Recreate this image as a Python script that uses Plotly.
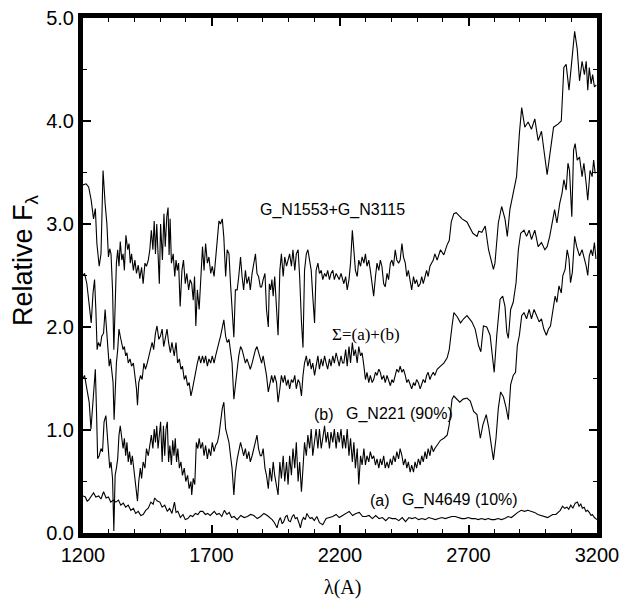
import plotly.graph_objects as go

# ---------------- data ----------------
top_x = [1200,1212,1222,1232,1241,1248,1254,1263,1270,1278,1286,1293,1299,1304,1309,1315,1320,1325,1330,1335,
         1340,1345,1351,1356,1361,1367,1374,1379,1384,1389,1396,1402,1408,1415,1421,1428,1434,1441,1447,1454,
         1460,1466,1472,1477,1482,1487,1492,1497,1502,1509,1515,1520,1526,1531,1535,1539,1544,1551,1557,1562,
         1567,1572,1578,1585,1591,1598,1604,1611,1617,1623,1629,1634,1639,1645,1652,1658,1665,1671,1677,1684,
         1690,1697,1703,1710,1716,1723,1729,1735,1742,1748,1755,1761,1768,1774,1780,1787,1793,1800,1806,1813,
         1819,1825,1832,1838,1845,1851,1858,1864,1871,1877,1883,1890,1895,1901,1908,1914,1921,1925,1930,1935,
         1940,1946,1953,1959,1966,1972,1979,1985,1992,1998,2004,2011,2017,2024,2030,2037,2043,2050,2056,2062,
         2069,2075,2082,2088,2094,2101,2107,2114,2120,2127,2133,2140,2146,2152,2159,2165,2172,2178,2185,2191,
         2197,2204,2210,2215,2222,2228,2235,2241,2248,2254,2260,2267,2273,2280,2286,2293,2299,2305,2312,2318,
         2325,2331,2338,2344,2351,2357,2363,2370,2376,2383,2389,2396,2402,2408,2415,2421,2428,2434,2441,2447,
         2454,2460,2466,2473,2479,2486,2492,2498,2505,2512,2518,2524,2531,2537,2543,2550,2556,2563,2569,2578,
         2591,2604,2617,2625,2633,2643,2652,2662,2675,2694,2707,2717,2733,2740,2752,2765,2778,2790,2797,2803,
         2816,2829,2842,2851,2861,2874,2887,2898,2907,2919,2925,2932,2945,2958,2971,2984,2997,3006,3019,3031,
         3048,3061,3071,3080,3091,3100,3113,3123,3132,3142,3151,3158,3164,3170,3177,3183,3190,3197]
top_y = [3.38,3.39,3.36,3.23,3.05,3.15,2.81,2.59,2.71,3.52,3.20,3.00,2.68,2.76,2.71,2.36,1.78,2.36,2.62,2.75,
         2.59,2.83,2.65,2.71,2.55,2.89,2.75,2.81,2.62,2.71,2.55,2.65,2.52,2.60,2.47,2.58,2.42,2.62,2.59,2.65,
         2.75,2.94,2.75,3.03,2.71,3.00,2.75,2.42,3.00,2.65,3.10,2.78,3.07,3.16,2.70,3.05,2.62,2.71,2.49,2.65,
         2.55,2.62,2.20,2.55,2.65,2.42,2.52,2.36,2.46,2.42,2.26,2.49,2.01,2.36,2.17,2.49,2.78,2.55,2.81,2.62,
         2.68,2.52,2.59,2.49,2.65,2.87,3.03,3.00,3.05,2.87,2.49,2.75,2.71,2.42,2.17,1.90,2.36,2.36,2.49,2.68,
         2.49,2.36,2.55,2.42,2.49,2.36,2.52,2.62,2.71,2.52,2.49,2.39,2.39,2.46,2.52,2.17,2.00,2.42,2.36,2.46,
         2.30,2.49,2.23,1.92,2.55,2.71,2.49,2.68,2.59,2.65,2.71,2.59,2.75,2.55,2.71,2.75,2.49,2.05,1.80,2.55,
         2.71,2.75,2.65,2.55,2.30,2.04,2.55,2.62,2.52,2.55,2.46,2.52,2.49,2.55,2.46,2.52,2.55,2.46,2.52,2.49,
         2.46,2.52,2.46,2.42,2.49,2.36,2.46,2.62,2.94,2.75,2.55,2.49,2.65,2.59,2.68,2.62,2.71,2.59,2.65,2.55,
         2.39,2.30,2.49,2.62,2.55,2.65,2.59,2.42,2.39,2.52,2.46,2.62,2.65,2.59,2.75,2.65,2.62,2.65,2.81,2.68,
         2.62,2.49,2.55,2.42,2.36,2.49,2.42,2.46,2.39,2.42,2.49,2.42,2.49,2.55,2.49,2.59,2.62,2.65,2.71,2.65,
         2.75,2.70,2.80,2.84,3.02,3.10,3.11,3.08,3.05,3.02,2.95,2.91,2.88,2.93,2.92,2.98,2.75,2.62,2.56,2.62,
         3.01,3.17,3.05,2.88,3.14,3.30,3.46,3.88,4.13,3.94,3.96,3.99,3.92,4.02,3.81,3.90,3.65,3.48,3.72,3.94,
         3.97,4.00,4.52,4.55,4.30,4.51,4.87,4.70,4.39,4.58,4.45,4.58,4.30,4.52,4.36,4.45,4.33,4.35]

sum_x = [1200,1206,1215,1224,1232,1239,1245,1250,1255,1260,1267,1273,1280,1286,1291,1297,1302,1307,1312,1317,
         1321,1325,1330,1335,1340,1345,1351,1356,1361,1366,1371,1376,1383,1389,1396,1402,1408,1412,1417,1424,
         1430,1437,1443,1450,1456,1463,1469,1475,1482,1488,1495,1501,1508,1514,1520,1527,1533,1540,1546,1555,
         1562,1568,1575,1581,1587,1594,1600,1607,1613,1620,1626,1632,1639,1645,1652,1658,1665,1671,1677,1684,
         1690,1697,1703,1710,1716,1723,1729,1735,1742,1748,1755,1761,1768,1774,1780,1787,1793,1800,1806,1813,
         1819,1825,1832,1838,1845,1851,1858,1864,1871,1877,1883,1890,1895,1901,1908,1914,1921,1927,1934,1940,
         1946,1953,1959,1966,1972,1979,1985,1992,1998,2004,2011,2017,2024,2030,2037,2043,2050,2056,2062,2069,
         2075,2082,2088,2094,2101,2107,2114,2120,2127,2133,2140,2146,2152,2159,2165,2172,2178,2185,2191,2197,
         2204,2210,2215,2222,2228,2235,2241,2248,2254,2260,2267,2273,2280,2286,2293,2299,2305,2312,2318,2325,
         2331,2338,2344,2351,2357,2363,2370,2376,2383,2389,2396,2402,2408,2415,2421,2428,2434,2441,2447,2454,
         2460,2466,2473,2479,2486,2492,2498,2505,2512,2518,2524,2531,2537,2543,2550,2556,2563,2569,2578,2591,
         2604,2617,2625,2636,2643,2656,2669,2681,2694,2713,2726,2739,2748,2758,2771,2784,2795,2800,2810,2823,
         2833,2842,2849,2855,2864,2874,2885,2894,2903,2916,2926,2936,2945,2958,2971,2984,2997,3006,3016,3026,
         3035,3044,3055,3064,3071,3080,3087,3093,3102,3109,3115,3123,3132,3142,3149,3158,3164,3173,3181,3187,3193]
sum_y = [2.50,2.52,2.42,2.20,2.04,2.33,2.46,2.17,1.78,1.85,1.81,1.91,1.94,2.17,1.98,1.72,1.62,1.69,1.59,1.46,
         1.10,1.46,1.65,1.78,1.98,1.91,1.85,1.78,1.81,1.72,1.75,1.65,1.69,1.62,1.65,1.53,1.40,1.24,1.46,1.53,
         1.49,1.65,1.59,1.65,1.72,1.78,1.85,1.78,1.94,2.01,1.88,1.91,1.98,1.81,1.91,1.98,1.85,1.75,1.85,1.72,
         1.85,1.65,1.69,1.59,1.62,1.49,1.53,1.43,1.46,1.33,1.40,1.49,1.59,1.65,1.72,1.65,1.72,1.65,1.72,1.62,
         1.69,1.65,1.72,1.65,1.72,1.78,1.85,1.91,1.98,2.07,1.91,1.85,1.88,1.78,1.65,1.30,1.46,1.59,1.72,1.81,
         1.78,1.72,1.65,1.69,1.62,1.59,1.65,1.72,1.78,1.81,1.75,1.69,1.65,1.72,1.62,1.53,1.37,1.46,1.53,1.46,
         1.53,1.46,1.27,1.40,1.53,1.46,1.53,1.43,1.49,1.40,1.49,1.46,1.53,1.40,1.49,1.46,1.33,1.53,1.65,1.72,
         1.62,1.69,1.59,1.65,1.53,1.62,1.72,1.59,1.69,1.62,1.72,1.65,1.59,1.69,1.62,1.72,1.65,1.75,1.69,1.62,
         1.72,1.65,1.65,1.78,1.62,1.81,1.65,1.85,1.72,1.78,1.65,1.81,1.72,1.75,1.62,1.49,1.56,1.46,1.53,1.46,
         1.49,1.56,1.53,1.59,1.56,1.49,1.53,1.46,1.53,1.49,1.43,1.49,1.46,1.53,1.59,1.56,1.62,1.56,1.59,1.53,
         1.46,1.49,1.43,1.40,1.46,1.43,1.49,1.46,1.40,1.46,1.49,1.46,1.53,1.56,1.49,1.53,1.56,1.53,1.59,1.62,
         1.65,1.70,1.78,2.01,2.14,2.10,2.04,2.08,2.11,2.05,1.98,1.82,1.76,2.01,2.00,1.92,1.66,1.56,1.92,2.27,
         2.30,2.20,1.95,1.89,2.17,2.24,2.43,2.75,2.91,2.94,2.88,2.94,2.85,2.94,2.78,2.82,2.75,2.78,2.88,3.01,
         3.14,3.01,3.20,3.30,3.43,3.33,3.59,3.52,3.07,3.72,3.78,3.62,3.65,3.46,3.59,3.39,3.23,3.52,3.46,3.62,3.49]

b_x = [1200,1206,1215,1224,1231,1236,1242,1248,1253,1257,1263,1270,1276,1282,1289,1294,1299,1304,1309,1315,
       1320,1325,1330,1335,1340,1345,1351,1356,1361,1366,1371,1376,1381,1387,1392,1397,1402,1407,1412,1417,
       1423,1428,1434,1441,1447,1454,1460,1466,1472,1477,1482,1487,1492,1497,1502,1508,1513,1518,1523,1528,
       1533,1538,1544,1549,1554,1559,1564,1569,1575,1581,1587,1594,1600,1607,1613,1620,1623,1629,1635,1641,
       1647,1652,1658,1665,1671,1677,1684,1690,1697,1703,1710,1716,1723,1729,1735,1742,1748,1755,1761,1768,
       1774,1780,1787,1793,1800,1806,1813,1819,1825,1832,1838,1845,1851,1858,1864,1871,1877,1883,1890,1895,
       1901,1908,1914,1921,1927,1934,1940,1946,1953,1959,1966,1972,1979,1985,1992,1998,2004,2011,2017,2024,
       2030,2037,2043,2050,2056,2062,2069,2075,2082,2088,2094,2101,2107,2114,2120,2127,2133,2140,2146,2152,
       2159,2165,2172,2178,2185,2191,2197,2204,2210,2215,2222,2228,2235,2241,2248,2254,2260,2267,2273,2280,
       2286,2293,2299,2305,2312,2318,2325,2331,2338,2344,2351,2357,2363,2370,2376,2383,2389,2396,2402,2408,
       2415,2421,2428,2434,2441,2447,2454,2460,2466,2473,2479,2486,2492,2498,2505,2512,2518,2524,2531,2537,
       2543,2550,2556,2563,2569,2578,2591,2604,2617,2625,2636,2643,2653,2666,2679,2694,2707,2720,2733,2746,
       2756,2769,2779,2787,2797,2807,2816,2825,2836,2846,2855,2864,2874,2883,2890,2898,2907,2916,2926,2936,
       2945,2955,2964,2975,2984,2993,3003,3011,3019,3029,3037,3044,3052,3061,3067,3076,3084,3091,3097,3104,
       3113,3121,3132,3142,3151,3158,3164,3170,3177,3183,3190,3196]
b_y = [1.50,1.53,1.40,1.27,1.01,1.21,1.46,1.59,1.14,0.72,0.75,0.82,0.79,1.08,1.14,0.95,0.75,0.63,0.69,0.53,
       0.02,0.56,0.63,0.72,0.95,1.04,0.92,0.82,0.92,0.75,0.88,0.69,0.79,0.66,0.75,0.63,0.56,0.43,0.31,0.50,
       0.63,0.53,0.69,0.63,0.82,0.75,0.88,0.95,0.82,1.01,0.88,1.04,0.82,0.95,1.08,0.69,1.04,0.75,1.01,1.08,
       0.69,0.85,0.66,0.90,0.75,0.92,0.69,0.82,0.63,0.69,0.56,0.63,0.50,0.56,0.43,0.50,0.37,0.53,0.47,0.88,
       0.82,0.92,0.82,0.88,0.75,0.85,0.72,0.82,0.75,0.88,0.79,0.85,0.88,0.95,1.08,1.21,1.27,1.01,0.95,0.88,
       0.75,0.63,0.37,0.59,0.72,0.79,0.88,0.82,0.75,0.82,0.72,0.79,0.69,0.75,0.82,0.88,0.95,0.82,0.75,0.75,
       0.82,0.63,0.56,0.43,0.63,0.50,0.69,0.56,0.47,0.37,0.69,0.53,0.75,0.50,0.69,0.47,0.75,0.56,0.82,0.63,
       0.88,0.50,0.69,0.40,0.63,0.88,0.75,0.95,0.82,1.01,0.75,0.88,1.01,0.82,1.01,0.82,0.95,1.04,0.88,0.98,
       0.82,0.98,0.88,1.01,0.82,0.98,0.88,1.01,0.82,0.95,0.82,1.01,0.75,0.92,0.69,0.88,0.63,0.82,0.47,0.75,
       0.66,0.82,0.66,0.75,0.69,0.79,0.72,0.75,0.66,0.72,0.63,0.72,0.66,0.75,0.63,0.69,0.63,0.72,0.66,0.75,
       0.69,0.79,0.72,0.82,0.75,0.66,0.72,0.63,0.69,0.59,0.66,0.59,0.69,0.63,0.72,0.66,0.75,0.69,0.79,0.72,
       0.82,0.75,0.85,0.79,0.82,0.85,0.90,0.92,0.95,1.05,1.30,1.33,1.30,1.27,1.30,1.31,1.28,1.18,1.15,0.92,
       1.05,1.15,1.02,0.86,0.71,0.92,1.21,1.37,1.32,1.22,1.10,1.44,1.53,1.56,1.82,1.92,2.11,2.14,2.08,2.17,
       2.08,2.17,2.11,2.05,2.08,1.98,1.92,1.98,2.01,2.17,2.30,2.24,2.40,2.33,2.50,2.56,2.75,2.66,2.43,2.53,
       2.88,2.78,2.69,2.75,2.66,2.59,2.50,2.69,2.75,2.69,2.82,2.66]

a_x = [1200,1209,1216,1222,1230,1241,1250,1261,1270,1280,1290,1299,1308,1318,1328,1338,1347,1357,1366,1376,
       1386,1396,1405,1415,1425,1434,1444,1454,1464,1473,1479,1489,1499,1508,1518,1528,1537,1546,1556,1562,
       1569,1579,1589,1598,1608,1618,1627,1637,1647,1656,1666,1676,1685,1695,1711,1720,1730,1740,1750,1760,
       1769,1778,1788,1800,1814,1827,1840,1852,1865,1878,1891,1904,1917,1926,1936,1945,1955,1962,1968,1975,
       1981,1988,1994,2000,2007,2014,2020,2026,2033,2040,2046,2052,2058,2065,2071,2078,2084,2091,2100,2110,
       2120,2133,2146,2159,2172,2185,2197,2210,2223,2236,2249,2262,2275,2288,2300,2313,2326,2339,2352,2365,
       2378,2390,2403,2416,2429,2442,2455,2468,2480,2493,2506,2519,2532,2545,2558,2571,2584,2597,2609,2622,
       2635,2648,2661,2674,2686,2699,2712,2725,2738,2751,2764,2777,2789,2802,2815,2828,2841,2854,2867,2880,
       2892,2905,2918,2931,2944,2957,2970,2983,2996,3008,3015,3028,3040,3047,3057,3066,3074,3083,3090,3098,
       3106,3115,3124,3130,3137,3143,3150,3157,3163,3170,3177,3182,3190,3200]
a_y = [0.36,0.35,0.31,0.32,0.35,0.39,0.35,0.36,0.33,0.40,0.34,0.35,0.30,0.32,0.30,0.32,0.27,0.29,0.25,0.27,
       0.22,0.24,0.19,0.21,0.17,0.18,0.22,0.24,0.30,0.28,0.34,0.31,0.30,0.25,0.27,0.21,0.24,0.19,0.30,0.20,
       0.21,0.15,0.18,0.13,0.14,0.17,0.16,0.19,0.18,0.21,0.21,0.18,0.19,0.17,0.21,0.18,0.19,0.16,0.22,0.18,
       0.20,0.15,0.16,0.13,0.17,0.15,0.16,0.18,0.17,0.14,0.16,0.19,0.17,0.15,0.13,0.10,0.05,0.12,0.15,0.09,
       0.11,0.16,0.17,0.12,0.11,0.16,0.18,0.14,0.15,0.10,0.05,0.12,0.15,0.13,0.19,0.16,0.14,0.15,0.12,0.16,
       0.10,0.08,0.14,0.15,0.16,0.18,0.15,0.17,0.19,0.21,0.17,0.19,0.20,0.16,0.16,0.17,0.14,0.17,0.14,0.15,
       0.12,0.15,0.14,0.14,0.12,0.15,0.11,0.15,0.14,0.15,0.13,0.14,0.13,0.15,0.14,0.13,0.14,0.15,0.14,0.15,
       0.16,0.16,0.15,0.14,0.14,0.15,0.14,0.14,0.13,0.14,0.13,0.14,0.13,0.13,0.14,0.13,0.14,0.16,0.15,0.18,
       0.20,0.22,0.21,0.22,0.21,0.20,0.18,0.17,0.16,0.15,0.16,0.18,0.18,0.20,0.22,0.26,0.24,0.25,0.23,0.27,
       0.24,0.29,0.30,0.26,0.28,0.24,0.25,0.21,0.22,0.20,0.17,0.18,0.15,0.13]

x_ticks = [1200, 1700, 2200, 2700, 3200]
x_tick_labels = ["1200", "1700", "2200", "2700", "3200"]
y_ticks = [0, 1, 2, 3, 4, 5]
y_tick_labels = ["0.0", "1.0", "2.0", "3.0", "4.0", "5.0"]

# ---------------- figure ----------------
SANS = "Liberation Sans, Arial, sans-serif"
SERIF = "Liberation Serif, Times New Roman, serif"
line_style = dict(color="black", width=1.1)

fig = go.Figure()
for xs, ys, name in [(top_x, top_y, "G_N1553+G_N3115"), (sum_x, sum_y, "Σ=(a)+(b)"),
                     (b_x, b_y, "G_N221 (90%)"), (a_x, a_y, "G_N4649 (10%)")]:
    fig.add_trace(go.Scatter(x=xs, y=ys, mode="lines", line=line_style, name=name,
                             showlegend=False))

axis_common = dict(showline=True, linewidth=5, linecolor="black", mirror="allticks",
                   ticks="inside", tickwidth=1.5, tickcolor="black", showgrid=False,
                   zeroline=False, automargin=False, ticklabeloverflow="allow",
                   tickfont=dict(family=SANS, size=20, color="black"))

fig.update_xaxes(range=[1200, 3200], tickvals=x_ticks, ticktext=x_tick_labels, ticklen=8,
                 minor=dict(dtick=100, tick0=1200, ticklen=4, ticks="inside", tickwidth=1,
                            tickcolor="black", showgrid=False),
                 **axis_common)
fig.update_yaxes(range=[0, 5], tickvals=y_ticks, ticktext=y_tick_labels, ticklen=8,
                 minor=dict(dtick=0.5, tick0=0, ticklen=4, ticks="inside", tickwidth=1,
                            tickcolor="black", showgrid=False),
                 **axis_common)

ann_font = dict(family=SANS, size=16, color="black")
annotations = [
    dict(x=2169, y=3.14, text="G_N1553+G_N3115", font=ann_font),
    dict(x=2301, y=1.93, text="Σ=(a)+(b)", font=dict(family=SERIF, size=17, color="black")),
    dict(x=2138, y=1.155, text="(b)", font=ann_font),
    dict(x=2433, y=1.155, text="G_N221 (90%)", font=ann_font),
    dict(x=2356, y=0.32, text="(a)", font=ann_font),
    dict(x=2667, y=0.32, text="G_N4649 (10%)", font=ann_font),
]
for a in annotations:
    fig.add_annotation(xref="x", yref="y", showarrow=False, xanchor="center",
                       yanchor="middle", **a)

fig.add_annotation(xref="paper", yref="paper", x=-0.113, y=0.53, text="Relative F<sub>λ</sub>",
                   textangle=-90, showarrow=False, xanchor="center", yanchor="middle",
                   font=dict(family=SANS, size=27, color="black"))
fig.add_annotation(xref="paper", yref="paper", x=0.504, y=-0.105, text="λ(A)",
                   showarrow=False, xanchor="center", yanchor="middle",
                   font=dict(family=SERIF, size=20, color="black"))

# the page body adds an 8px offset; margins are chosen so the frame lands where the reference has it
fig.update_layout(width=628, height=594, margin=dict(l=75, r=39, t=10, b=69),
                  paper_bgcolor="white", plot_bgcolor="white", showlegend=False)

fig.write_html("out.html")
